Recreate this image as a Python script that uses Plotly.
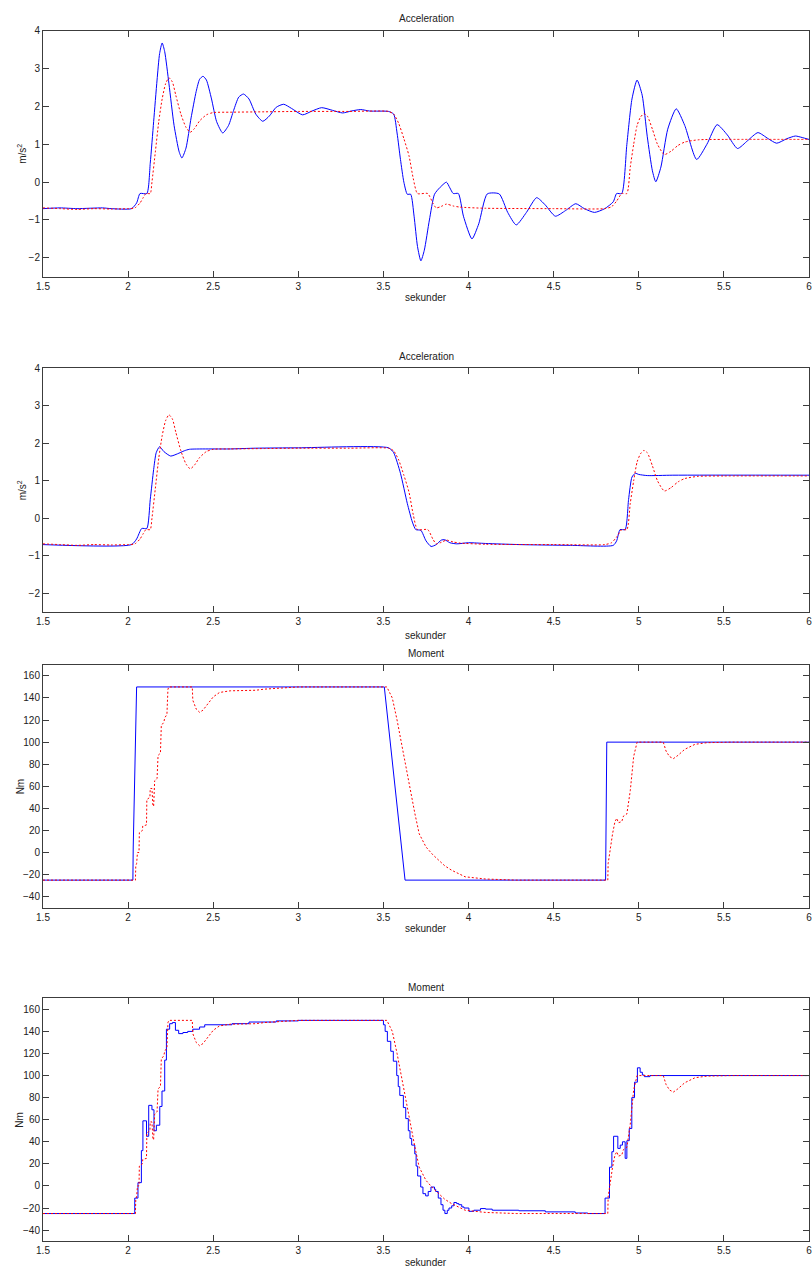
import plotly.graph_objects as go

# ---------------- data ----------------
# Acceleration, panel 1 (blue, solid)
t_acc1_blue = [1.5, 1.6, 1.7, 1.85, 1.9, 2.02, 2.05, 2.07, 2.11, 2.13, 2.15, 2.17, 2.185, 2.20, 2.215, 2.24, 2.27, 2.30, 2.316,
               2.34, 2.37, 2.40, 2.42, 2.44, 2.46, 2.49, 2.52, 2.556, 2.59, 2.62, 2.65, 2.678, 2.71, 2.75, 2.791, 2.83, 2.87,
               2.914, 2.96, 3.025, 3.08, 3.137, 3.20, 3.26, 3.31, 3.367, 3.42, 3.53, 3.56, 3.58, 3.60, 3.62, 3.64, 3.66,
               3.68, 3.70, 3.72, 3.74, 3.77, 3.80, 3.83, 3.87, 3.89, 3.91, 3.94, 3.97, 4.02, 4.06, 4.11, 4.18, 4.23, 4.28,
               4.34, 4.40, 4.45, 4.51, 4.57, 4.63, 4.68, 4.74, 4.80, 4.85, 4.87, 4.90, 4.93, 4.96, 4.99, 5.02, 5.05, 5.08,
               5.10, 5.13, 5.17, 5.22, 5.27, 5.34, 5.40, 5.46, 5.52, 5.58, 5.64, 5.70, 5.76, 5.81, 5.87, 5.92, 5.96, 6.0]
acc1_blue = [-0.7, -0.68, -0.7, -0.68, -0.7, -0.7, -0.55, -0.3, -0.3, 0.5, 1.6, 2.7, 3.4, 3.68, 3.45, 2.6, 1.5, 0.8, 0.64,
             0.9, 1.7, 2.4, 2.72, 2.80, 2.7, 2.2, 1.6, 1.30, 1.5, 1.9, 2.25, 2.33, 2.2, 1.8, 1.61, 1.75, 1.98,
             2.06, 1.95, 1.78, 1.88, 1.97, 1.9, 1.83, 1.88, 1.92, 1.88, 1.87, 1.8, 1.3, 0.6, 0.0, -0.32, -0.32,
             -0.9, -1.7, -2.08, -1.8, -1.0, -0.32, -0.15, 0.0, -0.15, -0.3, -0.3, -0.9, -1.50, -1.1, -0.31, -0.31, -0.8, -1.13,
             -0.8, -0.41, -0.6, -0.90, -0.75, -0.57, -0.7, -0.80, -0.7, -0.52, -0.3, -0.3, 1.0, 2.2, 2.70, 2.3, 1.2, 0.3,
             0.01, 0.4, 1.4, 1.94, 1.5, 0.60, 1.0, 1.52, 1.25, 0.89, 1.1, 1.31, 1.15, 1.03, 1.15, 1.22, 1.18, 1.13]

# Acceleration, reference (red, dotted) - same in panels 1 and 2
t_acc_red = [1.5, 1.6, 1.7, 1.8, 1.9, 2.0, 2.04, 2.07, 2.09, 2.105, 2.13, 2.14, 2.16, 2.18, 2.20, 2.22, 2.24, 2.26, 2.28,
             2.31, 2.34, 2.365, 2.39, 2.42, 2.46, 2.50, 2.6, 2.8, 3.0, 3.3, 3.53, 3.56, 3.59, 3.62, 3.65, 3.675, 3.70,
             3.76, 3.79, 3.81, 3.84, 3.87, 3.91, 3.95, 4.1, 4.5, 4.80, 4.84, 4.87, 4.90, 4.93, 4.95, 4.97, 4.99, 5.01,
             5.03, 5.05, 5.08, 5.11, 5.15, 5.19, 5.23, 5.27, 5.35, 5.5, 6.0]
acc_red = [-0.68, -0.7, -0.72, -0.7, -0.71, -0.7, -0.68, -0.55, -0.4, -0.3, -0.3, 0.0, 0.8, 1.6, 2.2, 2.6, 2.76, 2.65, 2.3,
           1.8, 1.45, 1.32, 1.42, 1.62, 1.78, 1.84, 1.85, 1.86, 1.87, 1.87, 1.87, 1.8, 1.55, 1.15, 0.7, 0.1, -0.3,
           -0.3, -0.55, -0.68, -0.64, -0.58, -0.63, -0.66, -0.69, -0.7, -0.7, -0.65, -0.5, -0.3, -0.3, 0.4, 1.0, 1.5, 1.72,
           1.81, 1.75, 1.4, 1.0, 0.73, 0.82, 0.97, 1.06, 1.12, 1.13, 1.13]

# Acceleration, panel 2 (blue, solid)
t_acc2_blue = [1.5, 2.02, 2.05, 2.08, 2.11, 2.13, 2.15, 2.165, 2.185, 2.21, 2.25, 2.29, 2.33, 2.36, 2.6, 2.75, 3.0, 3.53,
               3.56, 3.60, 3.64, 3.67, 3.69, 3.72, 3.75, 3.78, 3.81, 3.84, 3.86, 3.89, 3.93, 4.0, 4.1, 4.3, 4.6, 4.85,
               4.87, 4.89, 4.92, 4.94, 4.96, 4.98, 5.0, 5.05, 5.2, 6.0]
acc2_blue = [-0.7, -0.7, -0.55, -0.27, -0.27, 0.5, 1.3, 1.75, 1.91, 1.78, 1.66, 1.72, 1.8, 1.84, 1.85, 1.87, 1.88, 1.88,
             1.75, 1.2, 0.4, -0.1, -0.3, -0.32, -0.6, -0.75, -0.7, -0.58, -0.57, -0.65, -0.68, -0.65, -0.67, -0.7, -0.72, -0.72,
             -0.6, -0.3, -0.3, 0.5, 1.1, 1.2, 1.17, 1.14, 1.15, 1.15]

# Moment, panel 3 (blue, solid)
t_mom1_blue = [1.5, 2.028, 2.03, 2.035, 2.04, 2.045, 2.05, 3.505, 3.627, 4.805, 4.812, 6.0]
mom1_blue = [-25, -25, 5, 45, 85, 125, 150, 150, -25, -25, 100, 100]

# Moment, reference (red, dotted) - same in panels 3 and 4
t_mom_red = [1.5, 2.043, 2.045, 2.05, 2.055, 2.064, 2.066, 2.084, 2.086, 2.108, 2.11, 2.128, 2.13, 2.14, 2.146, 2.15,
             2.156, 2.17, 2.176, 2.19, 2.195, 2.21, 2.215, 2.228, 2.234, 2.24, 2.377, 2.38, 2.40, 2.42, 2.44, 2.47,
             2.50, 2.537, 2.6, 2.75, 2.8, 2.9, 3.0, 3.52, 3.552, 3.58, 3.61, 3.635, 3.66, 3.685, 3.71, 3.75, 3.79,
             3.826, 3.86, 3.90, 3.94, 3.98, 4.04, 4.10, 4.28, 4.818, 4.82, 4.83, 4.846, 4.86, 4.871, 4.88, 4.90,
             4.91, 4.93, 4.95, 4.97, 4.99, 5.144, 5.16, 5.18, 5.203, 5.23, 5.27, 5.33, 5.40, 5.545, 6.0]
mom_red = [-25, -25, -12, -10, 0, 0, 18, 20, 24, 25, 48, 50, 58, 58, 42, 42,
           65, 67, 88, 90, 115, 118, 122, 125, 148, 150, 150, 138, 130, 127, 129, 135,
           141, 145, 146.5, 147, 148, 149, 150, 150, 140, 120, 95, 75, 56, 35, 17, 5, -2,
           -7, -12, -16, -19, -22, -23, -24, -25, -25, -10, 2, 17, 28, 31, 27, 28,
           33, 35, 56, 87, 100, 100, 92, 87, 85, 88, 93.5, 98, 99.5, 100, 100]

# Moment, panel 4 (blue, solid, sample-and-hold)
t_mom2_blue = [1.5, 2.039, 2.058, 2.078, 2.087, 2.108, 2.121, 2.14, 2.152, 2.166, 2.186, 2.199, 2.215, 2.225, 2.244,
               2.26, 2.278, 2.297, 2.322, 2.35, 2.38, 2.42, 2.45, 2.61, 2.71, 2.87, 3.0, 3.50, 3.51, 3.523, 3.543,
               3.558, 3.578, 3.587, 3.596, 3.617, 3.631, 3.646, 3.656, 3.666, 3.684, 3.692, 3.701, 3.719, 3.732,
               3.748, 3.763, 3.779, 3.80, 3.807, 3.822, 3.838, 3.85, 3.861, 3.875, 3.885, 3.901, 3.914, 3.93, 3.943,
               3.96, 3.973, 4.002, 4.031, 4.07, 4.1, 4.139, 4.295, 4.451, 4.627, 4.70, 4.802, 4.828, 4.842, 4.852,
               4.877, 4.891, 4.904, 4.92, 4.93, 4.944, 4.959, 4.975, 4.992, 5.008, 5.021, 5.033, 5.066, 6.0]
mom2_blue = [-25, -11, 3, 32, 59, 45, 73, 69, 50, 55, 72, 86, 114, 142, 147,
             148, 141, 138, 139, 140, 142, 144, 146, 147, 148.5, 149.5, 150, 146, 140, 131, 122,
             113, 100, 90, 82, 71, 61, 50, 43, 37, 29, 18, 9, -1, -7,
             -9, -5, -1, -3, -5, -11, -17, -22, -25, -22, -20, -18, -15, -16, -17,
             -19, -20, -23, -22, -20.5, -21, -22, -22.5, -23.5, -24.5, -25, -11, 17, 31, 45,
             34, 37, 40, 25, 41, 52, 80, 94, 107, 103, 100.5, 99, 100, 100]

x_ticks = [1.5, 2, 2.5, 3, 3.5, 4, 4.5, 5, 5.5, 6]
x_tick_labels = ["1.5", "2", "2.5", "3", "3.5", "4", "4.5", "5", "5.5", "6"]
acc_ticks = [-2, -1, 0, 1, 2, 3, 4]
mom_ticks = [-40, -20, 0, 20, 40, 60, 80, 100, 120, 140, 160]
titles = ["Acceleration", "Acceleration", "Moment", "Moment"]
y_titles = ["m/s<sup>2</sup>", "m/s<sup>2</sup>", "Nm", "Nm"]
x_title = "sekunder"

# ---------------- layout helpers ----------------
W, H = 812, 1269
ML, MR = 43, 1
FONT = "Liberation Sans, Arial, sans-serif"
AX = "#3c3c3c"
TXT = "#222"
BLUE = "#0000ff"
RED = "#ff0000"
DOT = "2px,2px"

# panel pixel boxes (top, bottom)
boxes = [(25, 272), (364, 609), (662, 906), (997, 1241)]
title_py = [13, 352, 651, 986]
xlab_py = [293, 632, 927, 1262]
ylab_px = [22, 22, 20, 20]

def fy(py):
    return 1 - py / H

def fx(px):
    return (px - ML) / (W - ML - MR)

fig = go.Figure()

def line(x, y, color, dash, axis_i, shape="linear", smooth=None):
    kw = dict(color=color, width=1, dash=dash, shape=shape)
    if smooth is not None:
        kw["smoothing"] = smooth
    fig.add_trace(go.Scatter(x=x, y=y, mode="lines", line=kw,
                             xaxis="x" if axis_i == 1 else f"x{axis_i}",
                             yaxis="y" if axis_i == 1 else f"y{axis_i}",
                             showlegend=False, hoverinfo="skip"))

line(t_acc1_blue, acc1_blue, BLUE, "solid", 1, "spline", 0.6)
line(t_acc_red, acc_red, RED, DOT, 1, "spline", 0.6)
line(t_acc2_blue, acc2_blue, BLUE, "solid", 2, "spline", 0.6)
line(t_acc_red, acc_red, RED, DOT, 2, "spline", 0.6)
line(t_mom1_blue, mom1_blue, BLUE, "solid", 3)
line(t_mom_red, mom_red, RED, DOT, 3)
line(t_mom2_blue, mom2_blue, BLUE, "solid", 4, "hv")
line(t_mom_red, mom_red, RED, DOT, 4)

layout = dict(width=W, height=H, margin=dict(l=ML, r=MR, t=0, b=0),
              paper_bgcolor="white", plot_bgcolor="white",
              font=dict(family=FONT, size=10, color=TXT))

annotations = []
for i in range(4):
    top, bot = boxes[i]
    xa = "xaxis" if i == 0 else f"xaxis{i+1}"
    ya = "yaxis" if i == 0 else f"yaxis{i+1}"
    yref = "y" if i == 0 else f"y{i+1}"
    xref = "x" if i == 0 else f"x{i+1}"
    layout[xa] = dict(domain=[0, 1], anchor=yref, range=[1.5, 6],
                      tickvals=x_ticks, ticktext=x_tick_labels, ticklabeloverflow="allow",
                      ticks="inside", ticklen=6, tickwidth=1, tickcolor=AX,
                      showline=True, linecolor=AX, linewidth=1, mirror="ticks",
                      showgrid=False, zeroline=False,
                      tickfont=dict(family=FONT, size=10, color=TXT))
    if i < 2:
        yr, yt = [-2.5, 4], acc_ticks
    else:
        yr, yt = [-50, 170], mom_ticks
    layout[ya] = dict(domain=[fy(bot), fy(top)], anchor=xref, range=yr,
                      tickvals=yt, ticklabeloverflow="allow",
                      ticks="inside", ticklen=6, tickwidth=1, tickcolor=AX,
                      showline=True, linecolor=AX, linewidth=1, mirror="ticks",
                      showgrid=False, zeroline=False,
                      tickfont=dict(family=FONT, size=10, color=TXT))
    annotations.append(dict(text=titles[i], xref="paper", yref="paper", x=0.5, y=fy(title_py[i]),
                            xanchor="center", yanchor="middle", showarrow=False,
                            font=dict(family=FONT, size=10, color=TXT)))
    annotations.append(dict(text=x_title, xref="paper", yref="paper", x=0.5, y=fy(xlab_py[i]),
                            xanchor="center", yanchor="middle", showarrow=False,
                            font=dict(family=FONT, size=10, color=TXT)))
    annotations.append(dict(text=y_titles[i], xref="paper", yref="paper", x=fx(ylab_px[i]),
                            y=fy((top + bot) / 2), xanchor="center", yanchor="middle",
                            textangle=-90, showarrow=False,
                            font=dict(family=FONT, size=10, color=TXT)))
layout["annotations"] = annotations
fig.update_layout(**layout)

fig.write_html("out.html")
